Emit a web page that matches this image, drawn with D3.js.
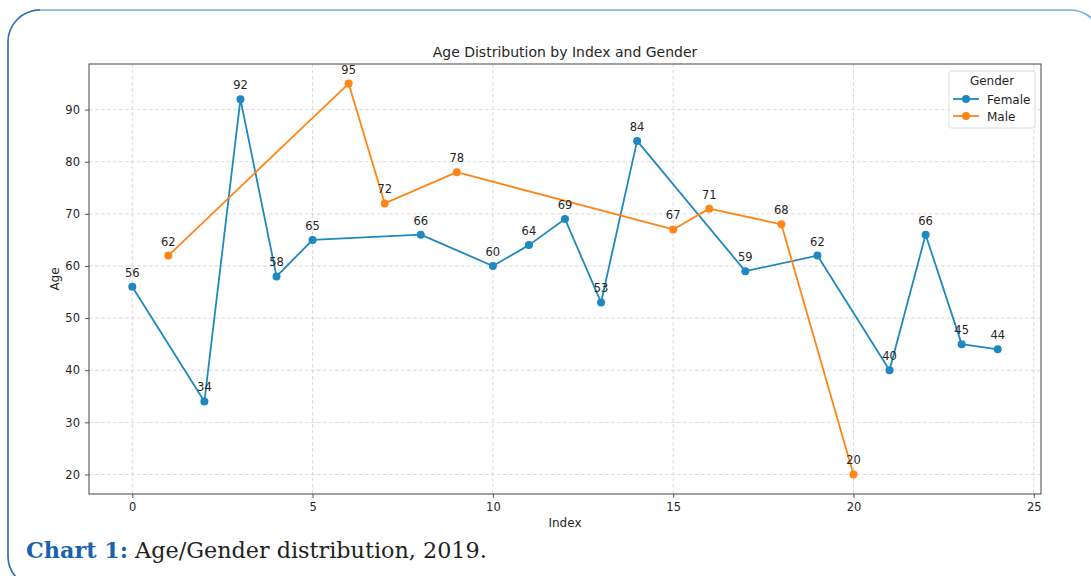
<!DOCTYPE html>
<html>
<head>
<meta charset="utf-8">
<script src="https://cdn.jsdelivr.net/npm/d3@7"></script>
<style>
  html, body { margin: 0; padding: 0; background: #fff; }
  svg { display: block; }
</style>
</head>
<body>
<svg id="chart" width="1091" height="576"></svg>
<script>
// Ages by record index, split by gender
const femaleIndex = [0, 2, 3, 4, 5, 8, 10, 11, 12, 13, 14, 17, 19, 21, 22, 23, 24];
const femaleAge   = [56, 34, 92, 58, 65, 66, 60, 64, 69, 53, 84, 59, 62, 40, 66, 45, 44];
const maleIndex   = [1, 6, 7, 9, 15, 16, 18, 20];
const maleAge     = [62, 95, 72, 78, 67, 71, 68, 20];

const xTicks = [0, 5, 10, 15, 20, 25];
const yTicks = [20, 30, 40, 50, 60, 70, 80, 90];
const seriesNames = ["Female", "Male"];

const colors = { Female: "#1f88bf", Male: "#ff8516" };

const svg = d3.select("#chart");

// Plot frame
const plot = { left: 89, top: 64, right: 1041, bottom: 494 };

const x = d3.scaleLinear().domain([-1.2, 25.2]).range([plot.left, plot.right]);
const y = d3.scaleLinear().domain([16.25, 98.75]).range([plot.bottom, plot.top]);

// Rounded card outline
svg.append("rect")
  .attr("x", 8).attr("y", 10)
  .attr("width", 1094).attr("height", 578)
  .attr("rx", 32).attr("ry", 32)
  .attr("fill", "none")
  .attr("stroke", "#78acd9")
  .attr("stroke-width", 1.6);
svg.append("path")
  .attr("d", "M 40 10 A 32 32 0 0 0 8 42 L 8 556 A 32 32 0 0 0 40 588")
  .attr("fill", "none")
  .attr("stroke", "#2f6fb6")
  .attr("stroke-width", 1.4);

const sans = "'DejaVu Sans', sans-serif";
const textColor = "#262626";
const smallSize = "11.5px";

// Grid
const grid = svg.append("g")
  .attr("stroke", "#cfcfcf")
  .attr("stroke-width", 0.8)
  .attr("stroke-dasharray", "3.5,2.5");
grid.selectAll("line.gx").data(xTicks).join("line")
  .attr("x1", d => x(d)).attr("x2", d => x(d))
  .attr("y1", plot.top).attr("y2", plot.bottom);
grid.selectAll("line.gy").data(yTicks).join("line")
  .attr("x1", plot.left).attr("x2", plot.right)
  .attr("y1", d => y(d)).attr("y2", d => y(d));

// Axes
const xAxis = d3.axisBottom(x).tickValues(xTicks).tickSize(4).tickPadding(5);
const yAxis = d3.axisLeft(y).tickValues(yTicks).tickSize(4).tickPadding(5);

const gx = svg.append("g")
  .attr("transform", `translate(0,${plot.bottom})`)
  .call(xAxis);
const gy = svg.append("g")
  .attr("transform", `translate(${plot.left},0)`)
  .call(yAxis);
[gx, gy].forEach(g => {
  g.select(".domain").remove();
  g.selectAll(".tick line").attr("stroke", "#444").attr("stroke-width", 0.9);
  g.selectAll(".tick text")
    .attr("fill", textColor)
    .style("font-family", sans)
    .style("font-size", smallSize);
});

// Frame
svg.append("rect")
  .attr("x", plot.left).attr("y", plot.top)
  .attr("width", plot.right - plot.left)
  .attr("height", plot.bottom - plot.top)
  .attr("fill", "none")
  .attr("stroke", "#444")
  .attr("stroke-width", 1);

// Series
const series = [
  { name: "Female", pts: femaleIndex.map((d, i) => ({ i: d, v: femaleAge[i] })) },
  { name: "Male",   pts: maleIndex.map((d, i) => ({ i: d, v: maleAge[i] })) }
];

const line = d3.line().x(d => x(d.i)).y(d => y(d.v));

series.forEach(s => {
  const g = svg.append("g");
  g.append("path")
    .datum(s.pts)
    .attr("d", line)
    .attr("fill", "none")
    .attr("stroke", colors[s.name])
    .attr("stroke-width", 1.8)
    .attr("stroke-linejoin", "round");
  g.selectAll("circle").data(s.pts).join("circle")
    .attr("cx", d => x(d.i)).attr("cy", d => y(d.v))
    .attr("r", 4)
    .attr("fill", colors[s.name]);
});

// Value labels above each point
series.forEach(s => {
  svg.append("g").selectAll("text").data(s.pts).join("text")
    .attr("x", d => x(d.i))
    .attr("y", d => y(d.v) - 10)
    .attr("text-anchor", "middle")
    .attr("fill", textColor)
    .style("font-family", sans)
    .style("font-size", smallSize)
    .text(d => d.v);
});

// Title and axis labels
svg.append("text")
  .attr("x", (plot.left + plot.right) / 2).attr("y", 57)
  .attr("text-anchor", "middle")
  .attr("fill", textColor)
  .style("font-family", sans).style("font-size", "14px")
  .text("Age Distribution by Index and Gender");

svg.append("text")
  .attr("x", (plot.left + plot.right) / 2).attr("y", 527)
  .attr("text-anchor", "middle")
  .attr("fill", textColor)
  .style("font-family", sans).style("font-size", "12px")
  .text("Index");

svg.append("text")
  .attr("transform", `translate(59,${(plot.top + plot.bottom) / 2}) rotate(-90)`)
  .attr("text-anchor", "middle")
  .attr("fill", textColor)
  .style("font-family", sans).style("font-size", "12px")
  .text("Age");

// Legend
const lg = svg.append("g").attr("transform", "translate(949,71)");
lg.append("rect")
  .attr("width", 86).attr("height", 57)
  .attr("rx", 2.5)
  .attr("fill", "#fff").attr("fill-opacity", 0.85)
  .attr("stroke", "#d6d6d6").attr("stroke-width", 0.9);
lg.append("text")
  .attr("x", 43).attr("y", 14)
  .attr("text-anchor", "middle")
  .attr("fill", textColor)
  .style("font-family", sans).style("font-size", "12px")
  .text("Gender");
seriesNames.forEach((name, k) => {
  const row = lg.append("g").attr("transform", `translate(0,${28 + k * 17})`);
  row.append("line")
    .attr("x1", 4).attr("x2", 30).attr("y1", 0).attr("y2", 0)
    .attr("stroke", colors[name]).attr("stroke-width", 1.8);
  row.append("circle").attr("cx", 17).attr("cy", 0).attr("r", 4)
    .attr("fill", colors[name]);
  row.append("text")
    .attr("x", 38).attr("y", 4.5)
    .attr("fill", textColor)
    .style("font-family", sans).style("font-size", "12px")
    .text(name);
});

// Caption
const cap = svg.append("text")
  .attr("x", 26).attr("y", 558)
  .style("font-family", "'DejaVu Serif', serif")
  .style("font-size", "22.3px");
cap.append("tspan")
  .attr("fill", "#1a62ad")
  .attr("font-weight", "bold")
  .text("Chart 1:");
cap.append("tspan")
  .attr("fill", "#222")
  .text(" Age/Gender distribution, 2019.");
</script>
</body>
</html>
